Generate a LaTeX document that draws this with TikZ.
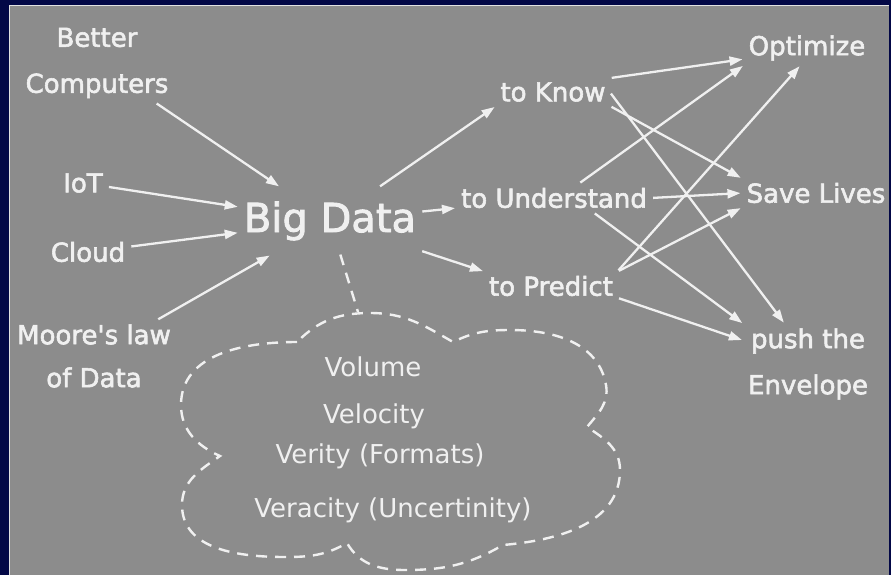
\documentclass[tikz,border=0pt]{standalone}
\usepackage{fontspec}
\setmainfont{DejaVu Sans}
\newfontfamily\chalkfont{DejaVu Sans}[UprightFeatures={FakeBold=2.2}]
\usetikzlibrary{arrows.meta}

\definecolor{slidenavy}{RGB}{3,8,70}
\definecolor{slidegray}{RGB}{140,140,140}
\definecolor{chalk}{RGB}{240,240,240}

\tikzset{
  lbl/.style={text=chalk, inner sep=4pt, align=center, font=\chalkfont\fontsize{26}{46}\selectfont},
  vee/.style={text=chalk, inner sep=2pt, font=\fontsize{26}{30}\selectfont},
  arr/.style={draw=chalk, line width=2.3pt, -{Triangle[length=13pt,width=9pt]}, shorten >=2pt, shorten <=2pt},
  cloudline/.style={draw=chalk, line width=2.4pt, dash pattern=on 11pt off 8pt}
}

\begin{document}
\begin{tikzpicture}[x=1pt,y=1pt]
% slide
\fill[slidenavy] (0,0) rectangle (891,-575);
\fill[slidegray] (10,-6) rectangle (889,-575);
\draw[white!75!slidegray, line width=1pt] (9.5,-575) -- (9.5,-5.5) -- (889,-5.5);
\useasboundingbox (0,0) rectangle (891,-575);

% what feeds big data
\node[lbl] (better) at (97,-63) {Better\\Computers};
\node[lbl] (iot) at (83,-183) {IoT};
\node[lbl] (cloud) at (88,-252) {Cloud};
\node[lbl] (moore) at (94,-356) {Moore's law\\[-3pt]of Data};

\node[lbl, font=\chalkfont\fontsize{40}{46}\selectfont, inner xsep=4pt, inner ysep=14pt] (bigdata) at (330,-221) {Big Data};

% goals
\node[lbl] (know) at (553,-92) {to Know};
\node[lbl] (und) at (554,-198) {to Understand};
\node[lbl] (pred) at (551,-286) {to Predict};

\node[lbl] (opt) at (807,-48) {Optimize};
\node[lbl] (save) at (816,-193) {Save Lives};
\node[lbl] (push) at (808,-364) {push the\\Envelope};

% the V's
\node[vee] (volume) at (373,-367) {Volume};
\node[vee] (velocity) at (374,-416) {Velocity};
\node[vee] (verity) at (380,-456) {Verity (Formats)};
\node[vee] (veracity) at (393,-510) {Veracity (Uncertinity)};

\draw[cloudline] (297,-342)
  to[out=180,in=90] (181,-405)
  to[out=-90,in=156] (220,-456)
  to[out=215,in=90] (182,-505)
  to[out=-90,in=180] (285,-557)
  to[out=0,in=-150] (347,-543)
  to[out=-60,in=180] (405,-570)
  to[out=0,in=-150] (503,-545)
  to[out=5,in=-90] (620,-470)
  to[out=90,in=-33] (587,-427)
  to[out=50,in=-80] (606,-385)
  to[out=100,in=0] (510,-330)
  to[out=180,in=26] (453,-342)
  to[out=150,in=0] (370,-313)
  to[out=180,in=45] (297,-342);
\coordinate (cloudtop) at (358,-312);
\draw[cloudline] (bigdata) -- (cloudtop);

% arrows in
\draw[arr] (better) -- (bigdata);
\draw[arr] (iot) -- (bigdata);
\draw[arr] (cloud) -- (bigdata);
\draw[arr] (moore) -- (bigdata);

% arrows out
\draw[arr] (bigdata) -- (know.south west);
\draw[arr] (bigdata) -- (und);
\draw[arr] (bigdata) -- (pred.north west);

\draw[arr] (know.north east) -- (opt.190);
\draw[arr] (know.east) -- (push.120);
\draw[arr] (know.south east) -- (save.north west);
\draw[arr] (und.30) -- (opt.south west);
\draw[arr] (und.east) -- (save.west);
\draw[arr] (und.-20) -- (push.north west);
\draw[arr] (pred.north east) -- (opt.250);
\draw[arr] (pred.north east) -- (save.south west);
\draw[arr] (pred.-10) -- (push.160);
\end{tikzpicture}
\end{document}
